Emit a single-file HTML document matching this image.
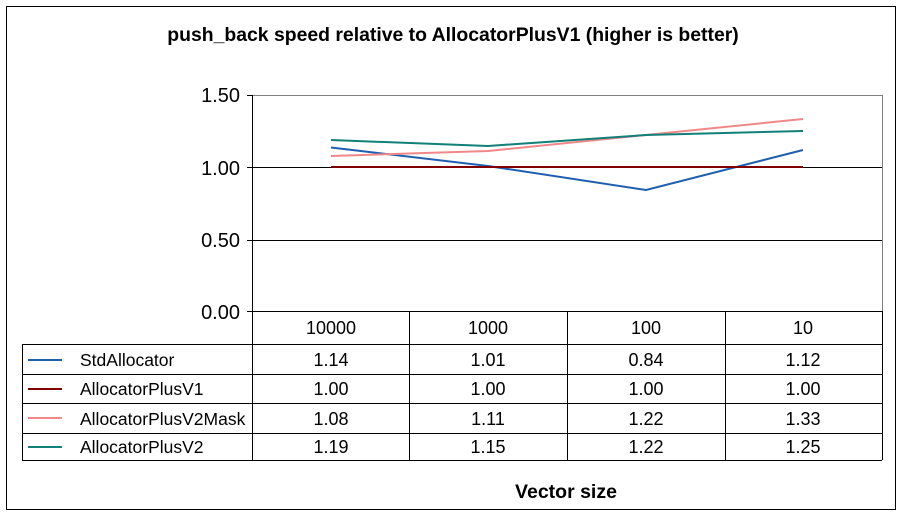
<!DOCTYPE html>
<html><head><style>body{margin:0;background:#fff}</style></head><body>
<svg width="903" height="516" xmlns="http://www.w3.org/2000/svg" font-family="Liberation Sans, sans-serif">
<rect x="0" y="0" width="903" height="516" fill="#fff"/>
<rect x="6.5" y="6.5" width="889" height="503" fill="none" stroke="#000"/>
<text x="453" y="41" text-anchor="middle" font-size="19.4" font-weight="bold">push_back speed relative to AllocatorPlusV1 (higher is better)</text>
<g stroke="#000" stroke-width="1">
<line x1="252" y1="95.5" x2="882" y2="95.5" stroke="#808080"/>
<line x1="882.5" y1="95" x2="882.5" y2="311" stroke="#808080"/>
<line x1="247" y1="167.5" x2="882" y2="167.5"/>
<line x1="247" y1="240.5" x2="882" y2="240.5"/>
<line x1="247" y1="311.5" x2="882" y2="311.5"/>
<line x1="247" y1="95.5" x2="252" y2="95.5"/>
<line x1="252.5" y1="95" x2="252.5" y2="460"/>
<line x1="409.5" y1="311" x2="409.5" y2="460"/>
<line x1="567.5" y1="311" x2="567.5" y2="460"/>
<line x1="725.5" y1="311" x2="725.5" y2="460"/>
<line x1="882.5" y1="311" x2="882.5" y2="460"/>
<line x1="22" y1="344.5" x2="882" y2="344.5"/>
<line x1="22" y1="374.5" x2="882" y2="374.5"/>
<line x1="22" y1="403.5" x2="882" y2="403.5"/>
<line x1="22" y1="433.5" x2="882" y2="433.5"/>
<line x1="22" y1="460.5" x2="882" y2="460.5"/>
<line x1="22.5" y1="344" x2="22.5" y2="460"/>
</g>
<g font-size="20" text-anchor="end">
<text x="240" y="102">1.50</text><text x="240" y="175">1.00</text><text x="240" y="247">0.50</text><text x="240" y="319">0.00</text>
</g>
<g fill="none" stroke-width="2">
<polyline stroke="#1F5FB0" points="331,147.5 488,166 646,190 803,150"/>
<polyline stroke="#800000" points="331,167 488,167 646,167 803,167"/>
<polyline stroke="#F08888" points="331,156 488,151 646,135 803,119"/>
<polyline stroke="#108078" points="331,140 488,146 646,135 803,131"/>
</g>
<g stroke-width="2">
<line x1="28" y1="360" x2="62" y2="360" stroke="#1F5FB0"/>
<line x1="28" y1="389" x2="62" y2="389" stroke="#800000"/>
<line x1="28" y1="418" x2="62" y2="418" stroke="#F08888"/>
<line x1="28" y1="447" x2="62" y2="447" stroke="#108078"/>
</g>
<g font-size="17.5">
<text x="80" y="366">StdAllocator</text>
<text x="80" y="395">AllocatorPlusV1</text>
<text x="80" y="425">AllocatorPlusV2Mask</text>
<text x="80" y="453">AllocatorPlusV2</text>
</g>
<g font-size="18" text-anchor="middle">
<text x="331" y="334">10000</text><text x="488" y="334">1000</text><text x="646" y="334">100</text><text x="803" y="334">10</text>
<text x="331" y="366">1.14</text><text x="488" y="366">1.01</text><text x="646" y="366">0.84</text><text x="803" y="366">1.12</text>
<text x="331" y="395">1.00</text><text x="488" y="395">1.00</text><text x="646" y="395">1.00</text><text x="803" y="395">1.00</text>
<text x="331" y="425">1.08</text><text x="488" y="425">1.11</text><text x="646" y="425">1.22</text><text x="803" y="425">1.33</text>
<text x="331" y="453">1.19</text><text x="488" y="453">1.15</text><text x="646" y="453">1.22</text><text x="803" y="453">1.25</text>
</g>
<text x="566" y="498" text-anchor="middle" font-size="19.5" font-weight="bold">Vector size</text>
</svg>
</body></html>
